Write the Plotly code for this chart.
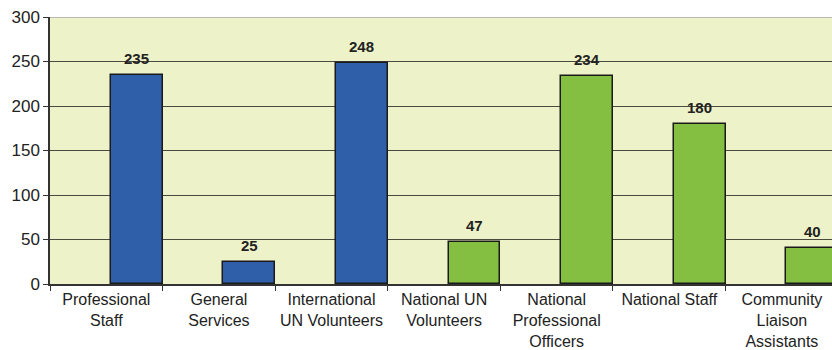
import plotly.graph_objects as go

categories = ["Professional<br>Staff", "General<br>Services", "International<br>UN Volunteers",
              "National UN<br>Volunteers", "National<br>Professional<br>Officers",
              "National Staff", "Community<br>Liaison<br>Assistants"]
values = [235, 25, 248, 47, 234, 180, 40]
bar_colors = ["#2F5FA9", "#2F5FA9", "#2F5FA9", "#84BF41", "#84BF41", "#84BF41", "#84BF41"]
y_ticks = [0, 50, 100, 150, 200, 250, 300]

BAR_OFFSET = 0.04
BAR_WIDTH = 0.46

fig = go.Figure()
fig.add_trace(go.Bar(
    x=categories, y=values,
    marker=dict(color=bar_colors, line=dict(color="#1a1a1a", width=1.5)),
    offset=BAR_OFFSET, width=BAR_WIDTH,
    hoverinfo="skip",
))

cat_px = 782 / (6.445 + 0.5)
for c, v in zip(categories, values):
    fig.add_annotation(
        x=c, y=v, text=f"<b>{v}</b>", showarrow=False,
        xshift=(BAR_OFFSET + BAR_WIDTH / 2) * cat_px, yshift=6, yanchor="bottom",
        font=dict(family="Liberation Sans, Arial", size=15, color="#222222"),
    )

fig.add_shape(type="line", xref="paper", yref="y", x0=0, x1=1, y0=300, y1=300,
              line=dict(color="#A8A8A8", width=1.5), layer="above")

fig.update_layout(
    width=832, height=350,
    margin=dict(l=50, r=0, t=17, b=66),
    paper_bgcolor="white",
    plot_bgcolor="#EEF2C8",
    showlegend=False,
    bargap=0,
    font=dict(family="Liberation Sans, Arial", size=16, color="#222222"),
)
fig.update_xaxes(
    type="category", range=[-0.5, 6.445], automargin=False,
    tickson="boundaries", ticks="outside", ticklen=5, tickcolor="#333333",
    showline=True, linecolor="#333333", linewidth=1.5,
    showgrid=False, tickfont=dict(size=16),
)
fig.update_yaxes(
    range=[0, 300], tickvals=y_ticks, automargin=False,
    ticks="outside", ticklen=5, tickcolor="#333333",
    showline=True, linecolor="#333333", linewidth=1.5,
    showgrid=True, gridcolor="#4A4A40", gridwidth=1.2,
    zeroline=False, tickfont=dict(size=17),
)

fig.write_html("out.html")
